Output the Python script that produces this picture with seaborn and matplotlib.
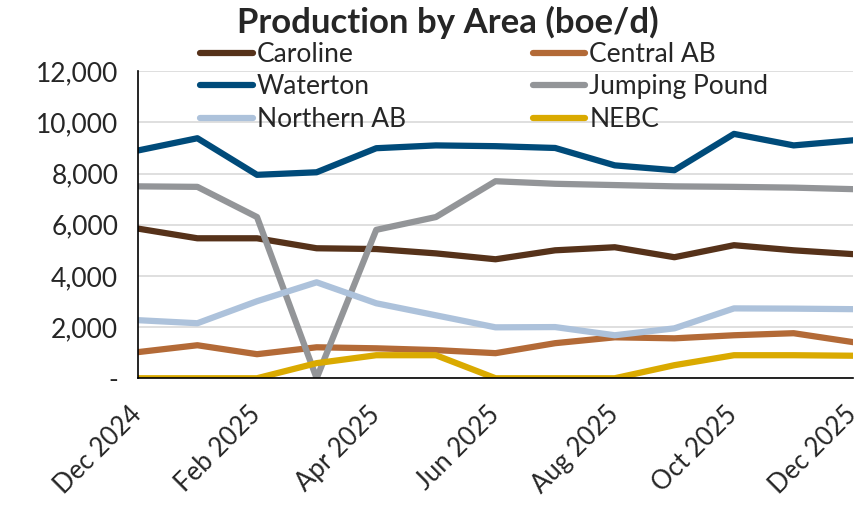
import numpy as np
import pandas as pd
import matplotlib
matplotlib.use("Agg")
import matplotlib.pyplot as plt
import matplotlib.transforms as mtransforms
import seaborn as sns
from matplotlib.lines import Line2D

months = ["Dec 2024", "Jan 2025", "Feb 2025", "Mar 2025", "Apr 2025", "May 2025", "Jun 2025",
          "Jul 2025", "Aug 2025", "Sep 2025", "Oct 2025", "Nov 2025", "Dec 2025"]

caroline = [5850, 5470, 5470, 5080, 5050, 4880, 4650, 5000, 5120, 4730, 5200, 5000, 4850]
central_ab = [1020, 1290, 940, 1210, 1170, 1100, 980, 1370, 1600, 1560, 1680, 1760, 1410]
waterton = [8900, 9380, 7950, 8050, 8990, 9100, 9070, 9000, 8320, 8130, 9550, 9100, 9300]
jumping_pound = [7500, 7480, 6300, 0, 5800, 6300, 7700, 7600, 7550, 7500, 7480, 7450, 7390]
northern_ab = [2270, 2150, 3010, 3750, 2930, 2460, 1990, 2000, 1680, 1950, 2730, 2720, 2700]
nebc = [0, 0, 0, 590, 900, 900, 0, 0, 0, 510, 900, 900, 880]

series = {
    "Caroline": caroline,
    "Central AB": central_ab,
    "Waterton": waterton,
    "Jumping Pound": jumping_pound,
    "Northern AB": northern_ab,
    "NEBC": nebc,
}
colors = {
    "Caroline": "#56321A",
    "Central AB": "#B36A37",
    "Waterton": "#004B7A",
    "Jumping Pound": "#939598",
    "Northern AB": "#ADC2DB",
    "NEBC": "#DAAA00",
}

rows = []
for name, vals in series.items():
    for i, v in enumerate(vals):
        rows.append({"month": i, "area": name, "boe": v})
df = pd.DataFrame(rows)

sns.set_theme(style="white")
plt.rcParams["font.family"] = ["Lato", "DejaVu Sans"]

fig = plt.figure(figsize=(8.61, 5.05), dpi=100)
ax = fig.add_axes([0.160, 0.251, 0.831, 0.608])

sns.lineplot(data=df, x="month", y="boe", hue="area", hue_order=list(series.keys()),
             palette=colors, linewidth=4.5, ax=ax, legend=False)

ax.set_xlim(0, 12)
ax.set_ylim(0, 12000)
ax.set_yticks(range(0, 12001, 2000))
ax.set_yticklabels(["-" if v == 0 else f"{v:,}" for v in range(0, 12001, 2000)], fontsize=19)
ax.set_xticks(range(0, 13, 2))
ax.set_xticklabels(months[::2], rotation=45, ha="right", rotation_mode="anchor", fontsize=18.5)
ax.tick_params(axis="x", length=0, pad=17)
ax.tick_params(axis="y", length=0, pad=14)
# nudge the rotated month labels a bit to the left, like the original
shift = mtransforms.ScaledTranslation(-9 / 100, 0, fig.dpi_scale_trans)
for lab in ax.get_xticklabels():
    lab.set_transform(lab.get_transform() + shift)
ax.set_xlabel("")
ax.set_ylabel("")
ax.yaxis.grid(True, color="#D9D9D9", linewidth=1.2)
ax.set_axisbelow(True)
for s in ["top", "right"]:
    ax.spines[s].set_visible(False)
for s in ["left", "bottom"]:
    ax.spines[s].set_color("black")
    ax.spines[s].set_linewidth(1.2)

order = ["Caroline", "Waterton", "Northern AB", "Central AB", "Jumping Pound", "NEBC"]
handles = [Line2D([0], [0], color=colors[n], linewidth=4.5, solid_capstyle="round") for n in order]
ax.legend(handles, order, ncol=2, loc="upper left", bbox_to_anchor=(0.087, 1.095),
          frameon=False, fontsize=19, handlelength=2.0, handletextpad=0.15,
          columnspacing=4.8, labelspacing=0.28, borderaxespad=0, borderpad=0)

fig.text(0.52, 0.955, "Production by Area (boe/d)", ha="center", va="center",
         fontsize=25, fontweight="bold")

fig.savefig("out.png", dpi=100)
